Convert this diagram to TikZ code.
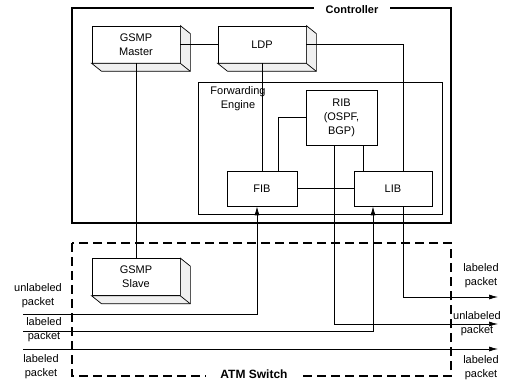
\documentclass[tikz,border=0pt]{standalone}
\usepackage{fontspec}
\setmainfont{Liberation Sans}
\usetikzlibrary{arrows.meta,calc,positioning}
% side and bottom faces of a raised block
\newcommand{\blockdepth}[1]{%
  \filldraw[fill=gray!12] (#1.north east) -- ([shift={(10,8)}]#1.north east)
    -- ([shift={(10,8)}]#1.south east) -- ([shift={(10,8)}]#1.south west)
    -- (#1.south west) -- (#1.south east) -- cycle;
  \draw (#1.south east) -- ([shift={(10,8)}]#1.south east);}

\begin{document}
\begin{tikzpicture}[x=1pt,y=-1pt,line width=0.7pt,
    >={Latex[length=9pt,width=5pt]},
    txt/.style={font=\fontsize{11}{14}\selectfont},
    block/.style={txt,draw,fill=white,align=center,inner sep=0pt,minimum width=88pt,minimum height=37pt},
    unitbox/.style={txt,draw,fill=white,align=center,inner sep=0pt},
    lbl/.style={txt,align=center,inner sep=0pt},
    boxtitle/.style={fill=white,font=\bfseries\fontsize{11}{14}\selectfont,inner ysep=1pt}]
  \useasboundingbox (0,0) rectangle (517,382);
  % Controller
  \draw[line width=2.6pt] (72,8) rectangle (451,223);
  \node[boxtitle,inner xsep=12pt] (ctrl) at (352,10) {Controller};
  % ATM switch
  \draw[line width=2.6pt,dash pattern=on 9pt off 5pt] (72,243) rectangle (451,376);
  \node[boxtitle,inner xsep=14pt,font=\bfseries\fontsize{12}{14}\selectfont] (atm) at (254,374) {ATM Switch};
  % forwarding engine
  \draw (198,82) rectangle (442,214);
  \node[lbl] (fwd) at (238,99) {Forwarding\\Engine};
  % blocks
  \node[block] (master) at (136,44.5) {GSMP\\Master};
  \node[block] (ldp) at (262,44.5) {LDP};
  \node[block] (slave) at (136,277) {GSMP\\Slave};
  \blockdepth{master}
  \blockdepth{ldp}
  \blockdepth{slave}
  \node[unitbox,minimum width=71pt,minimum height=55pt] (rib) at (341.5,117.5) {RIB\\(OSPF,\\BGP)};
  \node[unitbox,minimum width=70pt,minimum height=35pt] (fib) at (262,188.5) {FIB};
  \node[unitbox,minimum width=78pt,minimum height=35pt] (lib) at (393,188.5) {LIB};
  % control links
  \draw (master.east) -- (ldp.west);
  \draw (master.south) -- (slave.north);
  \draw (ldp.south) -- (fib.north);
  \draw (ldp.east) -| ([xshift=10pt]lib.north);
  \draw ([xshift=16pt]fib.north) |- (rib.west);
  \draw ([xshift=-30pt]lib.north) -- ([xshift=-30pt]lib.north |- rib.south);
  \draw (fib.east) -- (lib.west);
  % packet ends
  \coordinate (in1) at (23,314);
  \coordinate (in2) at (23,331);
  \coordinate (in3) at (23,349);
  \coordinate (out1) at (498,297);
  \coordinate (out2) at (498,324);
  \coordinate (out3) at (498,349);
  % packet paths
  \draw[->] (in1) -| ([xshift=-5pt]fib.south);
  \draw[->] (in2) -| ([xshift=-20pt]lib.south);
  \draw[->] (in3) -- (out3);
  \draw[->] ([xshift=10pt]lib.south) |- (out1);
  \draw[->] ([xshift=-7.5pt]rib.south) |- (out2);
  % packet labels
  \node[lbl] (inlbl1) at (38,296) {unlabeled\\packet};
  \node[lbl] (inlbl2) at (44,330) {labeled\\packet};
  \node[lbl] (inlbl3) at (41,367) {labeled\\packet};
  \node[lbl] (outlbl1) at (481,276) {labeled\\packet};
  \node[lbl] (outlbl2) at (477,324) {unlabeled\\packet};
  \node[lbl] (outlbl3) at (481,368) {labeled\\packet};
\end{tikzpicture}
\end{document}
